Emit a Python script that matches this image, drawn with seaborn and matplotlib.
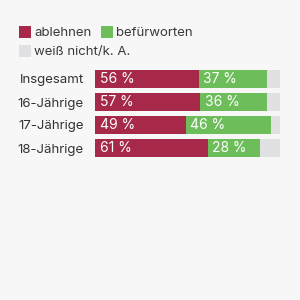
import matplotlib
matplotlib.use('Agg')
import matplotlib.pyplot as plt
from matplotlib.patches import Rectangle
import numpy as np
import pandas as pd
import seaborn as sns

#%% data
groups = ['Insgesamt', '16-Jährige', '17-Jährige', '18-Jährige']
ablehnen = [56, 57, 49, 61]
befuerworten = [37, 36, 46, 28]
weiss_nicht = [7, 7, 5, 11]
series_names = ['ablehnen', 'befürworten', 'weiß nicht/k. A.']

c_red, c_green, c_grey = '#a6294a', '#6dbd5b', '#e1e1e3'
bg = '#f7f7f7'

df = pd.DataFrame({'group': groups, 'a': ablehnen, 'b': befuerworten, 'c': weiss_nicht})
df['ab'] = df['a'] + df['b']
df['abc'] = df['ab'] + df['c']

sns.set_style('white')
plt.rcParams['font.family'] = ['Inter', 'DejaVu Sans']

fig = plt.figure(figsize=(3, 3), dpi=100)
fig.patch.set_facecolor(bg)
ax = fig.add_axes([95/300, 1 - 159.5/300, 185/300, 92/300])
ax.set_facecolor(bg)

# stacked bars: draw cumulative totals back to front
for col, color in [('abc', c_grey), ('ab', c_green), ('a', c_red)]:
    sns.barplot(data=df, x=col, y='group', color=color, orient='h', width=0.78,
                saturation=1, ax=ax, edgecolor='none', linewidth=0)

ax.set_xlim(0, 100)
ax.set_ylim(3.5, -0.5)
ax.set_xlabel('')
ax.set_ylabel('')
ax.set_xticks([])
sns.despine(ax=ax, left=True, bottom=True)
ax.tick_params(axis='y', length=0, pad=8, labelsize=9.5, labelcolor='#333333')

for i, row in df.iterrows():
    ax.text(2.5, i, f"{row['a']} %", color='white', fontsize=10,
            va='center', ha='left')
    ax.text(row['a'] + 2.2, i, f"{row['b']} %", color='white', fontsize=10,
            va='center', ha='left')

# legend drawn by hand in figure coords
legend_items = [(series_names[0], c_red, 19, 26), (series_names[1], c_green, 101, 26),
                (series_names[2], c_grey, 19, 45)]
for name, color, x, y in legend_items:
    fig.patches.append(Rectangle((x/300, 1 - (y + 12)/300), 12/300, 12/300,
                                 transform=fig.transFigure, color=color, lw=0))
    fig.text((x + 15)/300, 1 - (y + 6.5)/300, name, fontsize=9.5, color='#3a3a3a',
             va='center', ha='left')

fig.savefig('out.png', dpi=100, facecolor=bg)
